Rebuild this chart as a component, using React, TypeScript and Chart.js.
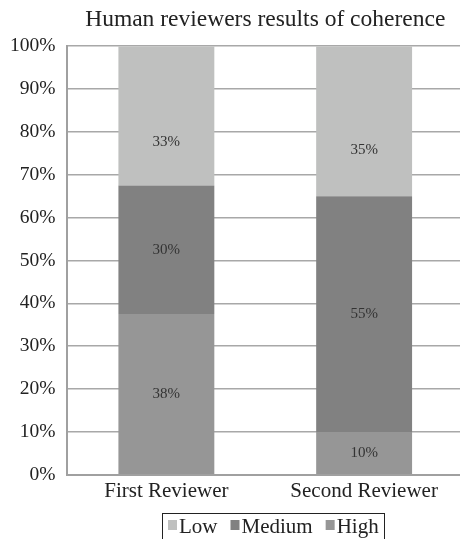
import React, { useEffect, useRef } from "react";
import { Chart, registerables } from "chart.js";

Chart.register(...registerables);

const categories = ["First Reviewer", "Second Reviewer"];
const seriesNames = ["Low", "Medium", "High"];
const lowValues = [32.5, 35];
const mediumValues = [30, 55];
const highValues = [37.5, 10];
const lowLabels = ["33%", "35%"];
const mediumLabels = ["30%", "55%"];
const highLabels = ["38%", "10%"];
const yTicks = [0, 10, 20, 30, 40, 50, 60, 70, 80, 90, 100];

const SERIF = "'Liberation Serif', 'Times New Roman', serif";
const LOW_COLOR = "#bfc0bf";
const MED_COLOR = "#818181";
const HIGH_COLOR = "#969696";

const labelPlugin = {
  id: "segLabels",
  afterDatasetsDraw(chart: any) {
    const ctx = chart.ctx;
    ctx.save();
    ctx.font = `15px ${SERIF}`;
    ctx.fillStyle = "#333333";
    ctx.textAlign = "center";
    ctx.textBaseline = "middle";
    chart.data.datasets.forEach((ds: any, i: number) => {
      const meta = chart.getDatasetMeta(i);
      meta.data.forEach((el: any, j: number) => {
        const frac = ds.labelFrac ?? 0.5;
        const y = el.base + (el.y - el.base) * frac;
        ctx.fillText(ds.valueLabels[j], el.x, y);
      });
    });
    ctx.restore();
  },
};

// Custom legend in the order Low, Medium, High with a thin frame.
const legendPlugin = {
  id: "framedLegend",
  afterDraw(chart: any) {
    const ctx = chart.ctx;
    const fontSize = 21;
    ctx.save();
    ctx.font = `${fontSize}px ${SERIF}`;
    const items = seriesNames.map((name) => {
      const ds = chart.data.datasets.find((d: any) => d.label === name);
      return { name, color: ds.backgroundColor };
    });
    const box = 9;
    const gapBoxText = 2;
    const gapItems = 13;
    const widths = items.map((it) => box + gapBoxText + ctx.measureText(it.name).width);
    const total = widths.reduce((a, b) => a + b, 0) + gapItems * (items.length - 1);
    const padL = 6;
    const padR = 5;
    const frameW = total + padL + padR;
    const cx = (chart.chartArea.left + chart.chartArea.right) / 2 + 8;
    const left = Math.round(cx - frameW / 2);
    const top = chart.height - 26;
    ctx.strokeStyle = "#222";
    ctx.lineWidth = 1;
    ctx.strokeRect(left + 0.5, top + 0.5, Math.round(frameW), 40);
    let x = left + padL;
    const midY = top + 12;
    ctx.textBaseline = "middle";
    ctx.textAlign = "left";
    items.forEach((it, i) => {
      ctx.fillStyle = it.color;
      ctx.fillRect(x, midY - 5, box, 10);
      ctx.fillStyle = "#222";
      ctx.fillText(it.name, x + box + gapBoxText, midY + 2);
      x += widths[i] + gapItems;
    });
    ctx.restore();
  },
};

export default function App() {
  const ref = useRef<HTMLCanvasElement | null>(null);
  useEffect(() => {
    if (!ref.current) return;
    const chart = new Chart(ref.current, {
      type: "bar",
      data: {
        labels: categories,
        datasets: [
          { label: seriesNames[2], data: highValues, backgroundColor: HIGH_COLOR, valueLabels: highLabels } as any,
          { label: seriesNames[1], data: mediumValues, backgroundColor: MED_COLOR, valueLabels: mediumLabels } as any,
          { label: seriesNames[0], data: lowValues, backgroundColor: LOW_COLOR, valueLabels: lowLabels, labelFrac: 0.31 } as any,
        ],
      },
      options: {
        animation: false,
        responsive: false,
        maintainAspectRatio: false,
        layout: { padding: { left: -2, right: 1, top: 6, bottom: 31 } },
        datasets: { bar: { barPercentage: 0.485, categoryPercentage: 1 } },
        scales: {
          x: {
            stacked: true,
            grid: { display: false, drawTicks: false },
            border: { display: true, color: "#a0a0a0", width: 2 },
            ticks: { color: "#222", font: { family: SERIF, size: 21 }, padding: 4 },
          },
          y: {
            stacked: true,
            min: 0,
            max: 100,
            afterBuildTicks: (axis: any) => {
              axis.ticks = yTicks.map((v) => ({ value: v }));
            },
            grid: { color: "#a8a8a8", lineWidth: 1.5, drawTicks: false },
            border: { display: true, color: "#a0a0a0", width: 2 },
            ticks: {
              color: "#222",
              font: { family: SERIF, size: 19.5 },
              padding: 12,
              callback: (v: any) => v + "%",
            },
          },
        },
        plugins: {
          title: {
            display: true,
            text: "Human reviewers results of coherence",
            color: "#222",
            font: { family: SERIF, size: 23.5, weight: "normal" },
            fullSize: false,
            padding: { top: 0, bottom: 12 },
          },
          legend: { display: false },
          tooltip: { enabled: false },
        },
      } as any,
      plugins: [labelPlugin, legendPlugin],
    });
    return () => chart.destroy();
  }, []);
  return (
    <div style={{ position: "fixed", left: 0, top: 0, width: 460, height: 539, background: "#fff", overflow: "hidden" }}>
      <canvas ref={ref} width={464} height={539} style={{ width: 464, height: 539, display: "block" }} />
    </div>
  );
}
